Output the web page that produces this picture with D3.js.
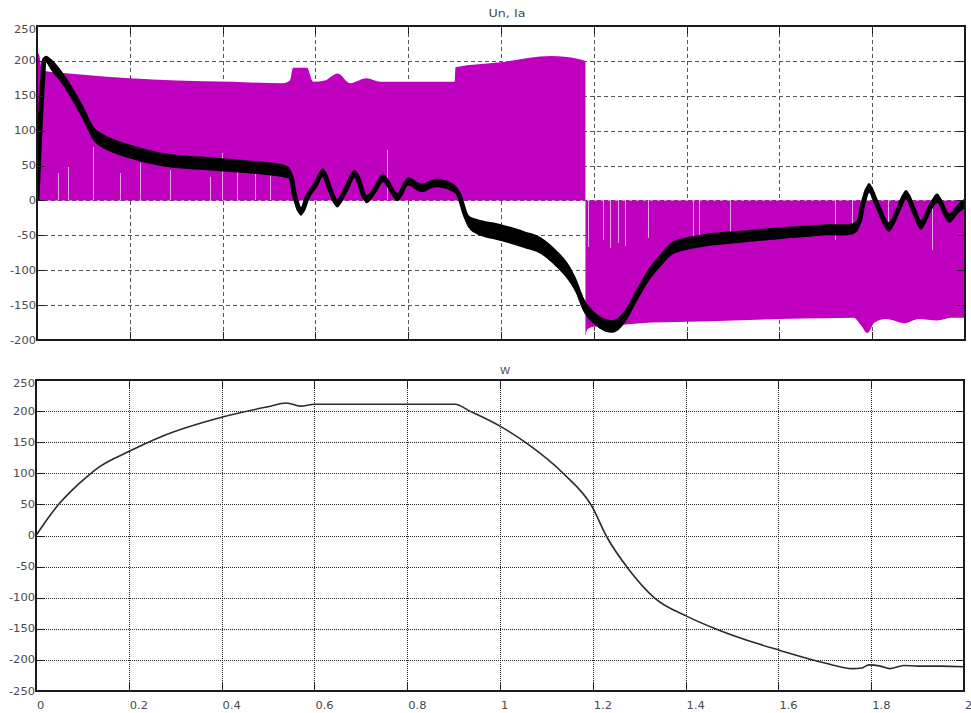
<!DOCTYPE html>
<html>
<head>
<meta charset="utf-8">
<script src="https://cdn.jsdelivr.net/npm/d3@7"></script>
<style>
  html, body { margin: 0; padding: 0; background: #fff; }
  svg { display: block; }
  text { font-family: "DejaVu Sans", sans-serif; }
</style>
</head>
<body>
<svg id="chart" width="971" height="713"></svg>
<script>
// ---- Un (PWM phase voltage): envelope of the switching band ----
const unPosT = [0, 0.004, 0.01, 0.02, 0.05, 0.1, 0.2, 0.3, 0.42, 0.53, 0.545, 0.552, 0.582, 0.595, 0.62, 0.648, 0.675, 0.71, 0.74, 0.8, 0.9, 0.902, 1.0, 1.108, 1.165, 1.182];
const unPosV = [212, 210, 190, 185, 183, 180, 175, 172, 170, 168, 172, 190, 190, 170, 172, 182, 168, 175, 170, 170, 170, 191, 198, 207, 203, 200];
const unNegT = [1.182, 1.186, 1.2, 1.25, 1.3, 1.4, 1.5, 1.6, 1.7, 1.76, 1.775, 1.79, 1.805, 1.83, 1.87, 1.9, 1.94, 1.97, 2.0];
const unNegV = [-195, -185, -181, -179, -176, -174, -172, -170, -169, -168, -178, -190, -175, -170, -176, -170, -172, -168, -168];

// pulses missing from the PWM train (time, level reached)
const gapT = [0.045, 0.067, 0.121, 0.179, 0.222, 0.287, 0.373, 0.399, 0.431, 0.47, 0.502, 0.754,
              1.188, 1.220, 1.235, 1.252, 1.267, 1.317, 1.414, 1.427, 1.494, 1.720, 1.756, 1.834, 1.929];
const gapV = [39, 48, 77, 39, 54, 44, 34, 68, 44, 39, 44, 72,
              -67, -57, -68, -61, -66, -54, -59, -61, -49, -57, -47, -38, -71];

// ---- Ia (phase current): mean value and half ripple ----
const iaT = [0, 0.005, 0.012, 0.018, 0.03, 0.058, 0.095, 0.123, 0.14, 0.165, 0.2, 0.273, 0.381, 0.49, 0.533, 0.545, 0.556, 0.569, 0.585, 0.6, 0.616, 0.632, 0.647, 0.665, 0.685, 0.71, 0.728, 0.746, 0.777, 0.799, 0.828, 0.86, 0.897, 0.908, 0.93, 0.95, 1.0, 1.05, 1.084, 1.136, 1.16, 1.18, 1.2, 1.225, 1.245, 1.265, 1.295, 1.32, 1.345, 1.37, 1.4, 1.45, 1.517, 1.6, 1.7, 1.765, 1.78, 1.793, 1.81, 1.836, 1.855, 1.873, 1.89, 1.905, 1.925, 1.94, 1.966, 1.985, 2.0];
const iaV = [0, 80, 170, 203, 195, 172, 131, 95, 86, 78, 70, 58, 52, 46, 42, 38, 5, -16, 8, 22, 40, 15, -4, 15, 38, 2, 15, 32, 5, 27, 18, 25, 18, 10, -30, -38, -46, -56, -64, -95, -120, -152, -168, -179, -180, -168, -133, -105, -85, -68, -62, -56, -52, -47, -42, -38, -5, 18, -5, -38, -15, 8, -15, -35, -10, 3, -25, -12, -4];
const iaR = [1, 2, 3, 4, 8, 9, 10, 10, 10, 10, 10, 9.5, 9.5, 9, 9, 8, 6, 6, 6, 6, 6, 6, 6, 6, 6, 6, 6, 6, 6, 6, 6, 6, 6, 6, 9, 11, 12, 12, 12, 12, 11, 10, 9, 9, 9, 9, 9, 9, 9, 9, 9, 9, 8.5, 8.5, 8, 8, 7, 7, 7, 7, 7, 7, 7, 7, 7, 7, 7, 7, 7];

// ---- W (rotor speed) ----
const wT = [0, 0.025, 0.05, 0.075, 0.112, 0.138, 0.2, 0.267, 0.4, 0.5, 0.54, 0.57, 0.6, 0.7, 0.8, 0.903, 0.935, 1.002, 1.058, 1.136, 1.198, 1.23, 1.276, 1.334, 1.403, 1.468, 1.56, 1.6, 1.7, 1.76, 1.78, 1.795, 1.82, 1.84, 1.87, 1.9, 1.95, 2.0];
const wV = [0, 27, 51, 71, 96, 111, 135, 158, 190, 207, 213, 208, 211, 211, 211, 211, 200, 175, 148, 100, 47, -2, -53, -101, -130, -151, -175, -184, -205, -214, -213, -208, -210, -214, -209, -210, -210, -211];

// ---- ticks ----
const xTicks = [0, 0.2, 0.4, 0.6, 0.8, 1, 1.2, 1.4, 1.6, 1.8, 2];
const yTicksTop = [-200, -150, -100, -50, 0, 50, 100, 150, 200, 250];
const yTicksBot = [-250, -200, -150, -100, -50, 0, 50, 100, 150, 200, 250];

const svg = d3.select("#chart");
const zip = (ts, vs) => ts.map((t, i) => ({ t, v: vs[i] }));

const TEXT_FILL = "#4a4a4a";
const STRETCH = 1.15;

function label(g, x, y, str, anchor, size) {
  g.append("text")
    .attr("transform", `translate(${x},${y}) scale(${STRETCH},1)`)
    .attr("text-anchor", anchor)
    .attr("font-size", size)
    .attr("fill", TEXT_FILL)
    .text(str);
}

function panel(cfg) {
  const { x, y, yTicks, gridDash, gridColor, id } = cfg;
  const [x0, x1] = x.range();
  const [y1, y0] = y.range(); // y1 bottom, y0 top
  const g = svg.append("g");

  g.append("clipPath").attr("id", id).append("rect")
    .attr("x", x0).attr("y", y0).attr("width", x1 - x0).attr("height", y1 - y0);

  // grid
  const grid = g.append("g").attr("stroke", gridColor).attr("stroke-width", 1)
    .attr("stroke-dasharray", gridDash).attr("shape-rendering", "crispEdges");
  xTicks.slice(1, -1).forEach(t => {
    const px = Math.round(x(t)) + 0.5;
    grid.append("line").attr("x1", px).attr("x2", px).attr("y1", y0).attr("y2", y1);
  });
  yTicks.slice(1, -1).forEach(v => {
    const py = Math.round(y(v)) + 0.5;
    grid.append("line").attr("x1", x0).attr("x2", x1).attr("y1", py).attr("y2", py);
  });

  const data = g.append("g").attr("clip-path", `url(#${id})`);
  const frame = g.append("g");
  return { g, data, frame, x0, x1, y0, y1 };
}

function drawFrame(p, x, y, yTicks, showX) {
  const { frame, x0, x1, y0, y1 } = p;
  const tk = 8;
  const ticks = frame.append("g").attr("stroke", "#222").attr("stroke-width", 1).attr("shape-rendering", "crispEdges");
  xTicks.forEach(t => {
    const px = Math.round(x(t)) + 0.5;
    ticks.append("line").attr("x1", px).attr("x2", px).attr("y1", y1).attr("y2", y1 - tk);
    ticks.append("line").attr("x1", px).attr("x2", px).attr("y1", y0).attr("y2", y0 + tk);
  });
  yTicks.forEach(v => {
    const py = Math.round(y(v)) + 0.5;
    ticks.append("line").attr("x1", x0).attr("x2", x0 + tk).attr("y1", py).attr("y2", py);
    ticks.append("line").attr("x1", x1).attr("x2", x1 - tk).attr("y1", py).attr("y2", py);
  });
  frame.append("rect").attr("x", x0).attr("y", y0).attr("width", x1 - x0).attr("height", y1 - y0)
    .attr("fill", "none").attr("stroke", "#1a1a1a").attr("stroke-width", 2);

  yTicks.forEach((v, i) => {
    let py = y(v) + 3.5;
    if (i === yTicks.length - 1) py += 3;
    label(frame, x0 - 1, py, String(v), "end", 10);
  });
  if (showX) {
    xTicks.forEach(t => label(frame, x(t) + 1, 709, String(t), "start", 10));
  }
}

// ================= upper panel: Un, Ia =================
const xUp = d3.scaleLinear().domain([0, 2]).range([37, 965]);
const yUp = d3.scaleLinear().domain([-200, 250]).range([340, 26]);
const upP = panel({ x: xUp, y: yUp, yTicks: yTicksTop, gridDash: "4,3", gridColor: "#555", id: "clipUp" });

const unArea = d3.area().curve(d3.curveMonotoneX).x(d => xUp(d.t)).y0(yUp(0)).y1(d => yUp(d.v));
upP.data.append("path").datum(zip(unPosT, unPosV)).attr("d", unArea).attr("fill", "#bf00bf");
upP.data.append("path").datum(zip(unNegT, unNegV)).attr("d", unArea).attr("fill", "#bf00bf");

upP.data.append("g").attr("stroke", "#e2a8e2").attr("stroke-width", 1).attr("shape-rendering", "crispEdges")
  .selectAll("line").data(zip(gapT, gapV)).join("line")
  .attr("x1", d => Math.round(xUp(d.t)) + 0.5).attr("x2", d => Math.round(xUp(d.t)) + 0.5)
  .attr("y1", yUp(0)).attr("y2", d => yUp(d.v));

const ia = iaT.map((t, i) => ({ t, v: iaV[i], r: iaR[i] }));
upP.data.append("path").datum(ia)
  .attr("d", d3.area().curve(d3.curveCatmullRom)
    .x(d => xUp(d.t)).y0(d => yUp(d.v - d.r)).y1(d => yUp(d.v + d.r)))
  .attr("fill", "#000");
upP.data.append("path").datum(ia)
  .attr("d", d3.line().curve(d3.curveCatmullRom).x(d => xUp(d.t)).y(d => yUp(d.v)))
  .attr("fill", "none").attr("stroke", "#000").attr("stroke-width", 5).attr("stroke-linejoin", "round");

drawFrame(upP, xUp, yUp, yTicksTop, false);
label(svg, 507, 17, "Un, Ia", "middle", 11);

// ================= lower panel: W =================
const xLo = d3.scaleLinear().domain([0, 2]).range([36, 964]);
const yLo = d3.scaleLinear().domain([-250, 250]).range([691, 380]);
const loP = panel({ x: xLo, y: yLo, yTicks: yTicksBot, gridDash: "1,1", gridColor: "#222", id: "clipLo" });

loP.data.append("path").datum(zip(wT, wV))
  .attr("d", d3.line().curve(d3.curveMonotoneX).x(d => xLo(d.t)).y(d => yLo(d.v)))
  .attr("fill", "none").attr("stroke", "#2a2a2a").attr("stroke-width", 1.6);

drawFrame(loP, xLo, yLo, yTicksBot, true);
label(svg, 505, 374, "W", "middle", 9);
</script>
</body>
</html>
